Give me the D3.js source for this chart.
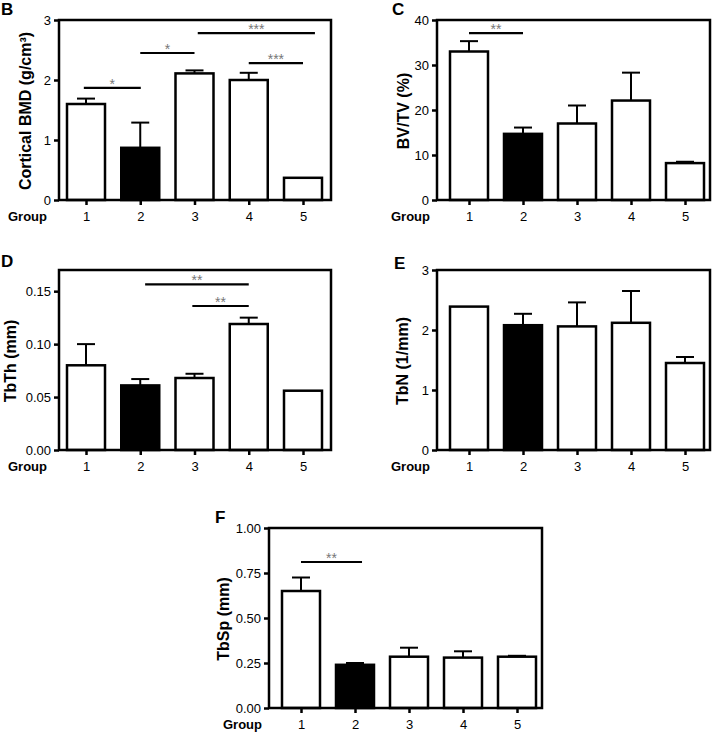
<!DOCTYPE html>
<html><head><meta charset="utf-8">
<script src="https://cdn.jsdelivr.net/npm/d3@7"></script>
<style>
body{margin:0;background:#fff}
svg{display:block}
text{font-family:Arial,"Liberation Sans",Helvetica,sans-serif}
</style>
</head><body>
<svg id="chart" width="714" height="732"></svg>
<script>
// ---------- data ----------
const groups = ["1", "2", "3", "4", "5"];

const bmdMean  = [1.60, 0.87, 2.11, 2.00, 0.37];
const bmdSem   = [0.09, 0.42, 0.05, 0.12, 0.00];
const bmdTicks = [0, 1, 2, 3];
const bmdSig   = [
  { from: 0.96, to: 2.01, y: 1.87, label: "*" },
  { from: 2.0,  to: 3.0,  y: 2.45, label: "*" },
  { from: 3.06, to: 5.22, y: 2.78, label: "***" },
  { from: 4.0,  to: 5.0,  y: 2.28, label: "***" }
];

const bvtvMean  = [33.0, 14.7, 17.0, 22.1, 8.2];
const bvtvSem   = [2.3, 1.4, 4.0, 6.2, 0.3];
const bvtvTicks = [0, 10, 20, 30, 40];
const bvtvSig   = [{ from: 1.0, to: 2.0, y: 37.1, label: "**" }];

const tbthMean  = [0.080, 0.061, 0.068, 0.119, 0.056];
const tbthSem   = [0.020, 0.006, 0.004, 0.006, 0.000];
const tbthTicks = [0, 0.05, 0.10, 0.15];
const tbthSig   = [
  { from: 2.09, to: 4.0, y: 0.1565, label: "**" },
  { from: 2.96, to: 4.0, y: 0.136,  label: "**" }
];

const tbnMean  = [2.39, 2.08, 2.06, 2.12, 1.45];
const tbnSem   = [0.00, 0.19, 0.40, 0.53, 0.10];
const tbnTicks = [0, 1, 2, 3];
const tbnSig   = [];

const tbspMean  = [0.65, 0.24, 0.285, 0.28, 0.285];
const tbspSem   = [0.075, 0.010, 0.050, 0.035, 0.005];
const tbspTicks = [0, 0.25, 0.50, 0.75, 1.00];
const tbspSig   = [{ from: 1.0, to: 2.13, y: 0.811, label: "**" }];

// ---------- layout ----------
const panels = [
  { letter: "B", lx: 1, ly: 15, left: 59, right: 331, top: 20, bottom: 200, x1: 86, x5: 303, max: 3,
    mean: bmdMean, sem: bmdSem, ticks: bmdTicks, fmt: d3.format("d"), sig: bmdSig,
    title: "Cortical BMD (g/cm\u00B3)", tx: 31, groupX: 47 },
  { letter: "C", lx: 392, ly: 15, left: 437, right: 710, top: 20, bottom: 200, x1: 469, x5: 685, max: 40,
    mean: bvtvMean, sem: bvtvSem, ticks: bvtvTicks, fmt: d3.format("d"), sig: bvtvSig,
    title: "BV/TV (%)", tx: 409, groupX: 430 },
  { letter: "D", lx: 1, ly: 267, left: 59, right: 331, top: 270, bottom: 450, x1: 86, x5: 303, max: 0.17,
    mean: tbthMean, sem: tbthSem, ticks: tbthTicks, fmt: d3.format(".2f"), sig: tbthSig,
    title: "TbTh (mm)", tx: 16, groupX: 47 },
  { letter: "E", lx: 394, ly: 269, left: 437, right: 710, top: 270, bottom: 450, x1: 469, x5: 685, max: 3,
    mean: tbnMean, sem: tbnSem, ticks: tbnTicks, fmt: d3.format("d"), sig: tbnSig,
    title: "TbN (1/mm)", tx: 408, groupX: 430 },
  { letter: "F", lx: 215, ly: 523, left: 269, right: 542, top: 528, bottom: 708, x1: 301, x5: 517, max: 1,
    mean: tbspMean, sem: tbspSem, ticks: tbspTicks, fmt: d3.format(".2f"), sig: tbspSig,
    title: "TbSp (mm)", tx: 229, groupX: 262 }
];

const svg = d3.select("#chart");
const barW = 38;
const capW = 18;
const lw = 2.5;
const fontStack = "Arial, 'Liberation Sans', sans-serif";

panels.forEach(p => {
  const g = svg.append("g");
  const x = d3.scalePoint().domain(groups).range([p.x1, p.x5]);
  const xf = d3.scaleLinear().domain([1, 5]).range([x("1"), x("5")]);
  const y = d3.scaleLinear().domain([0, p.max]).range([p.bottom, p.top]);

  const rows = groups.map((k, i) => ({ k, i, m: p.mean[i], e: p.sem[i] }));

  // error bars (upper only)
  rows.filter(d => d.e > 0).forEach(d => {
    g.append("line").attr("x1", x(d.k)).attr("x2", x(d.k))
      .attr("y1", y(d.m)).attr("y2", y(d.m + d.e))
      .attr("stroke", "#000").attr("stroke-width", 2);
    g.append("line").attr("x1", x(d.k) - capW / 2).attr("x2", x(d.k) + capW / 2)
      .attr("y1", y(d.m + d.e)).attr("y2", y(d.m + d.e))
      .attr("stroke", "#000").attr("stroke-width", 2);
  });

  // bars
  g.selectAll("rect.bar").data(rows).join("rect")
    .attr("class", "bar")
    .attr("x", d => x(d.k) - barW / 2)
    .attr("width", barW)
    .attr("y", d => y(d.m))
    .attr("height", d => y(0) - y(d.m))
    .attr("fill", d => d.i === 1 ? "#000" : "#fff")
    .attr("stroke", "#000")
    .attr("stroke-width", lw);

  // frame
  g.append("rect")
    .attr("x", p.left).attr("y", p.top)
    .attr("width", p.right - p.left).attr("height", p.bottom - p.top)
    .attr("fill", "none").attr("stroke", "#000").attr("stroke-width", lw);

  // y axis
  const ya = g.append("g").attr("transform", `translate(${p.left},0)`)
    .call(d3.axisLeft(y).tickValues(p.ticks).tickFormat(p.fmt).tickSize(5).tickPadding(3));
  ya.select(".domain").remove();
  ya.selectAll(".tick line").attr("stroke-width", lw);
  ya.selectAll(".tick text").attr("font-size", 13).attr("fill", "#000")
    .style("font-family", fontStack);

  // x axis
  const xa = g.append("g").attr("transform", `translate(0,${p.bottom})`)
    .call(d3.axisBottom(x).tickSize(5).tickPadding(7));
  xa.select(".domain").remove();
  xa.selectAll(".tick line").attr("stroke-width", lw);
  xa.selectAll(".tick text").attr("font-size", 13).attr("fill", "#000")
    .style("font-family", fontStack);

  // "Group" label
  g.append("text").attr("x", p.groupX).attr("y", p.bottom + 21)
    .attr("text-anchor", "end").attr("font-size", 13).attr("font-weight", "bold")
    .text("Group");

  // y title
  g.append("text")
    .attr("transform", `translate(${p.tx},${(p.top + p.bottom) / 2 + 1}) rotate(-90)`)
    .attr("text-anchor", "middle").attr("font-size", 16).attr("font-weight", "bold")
    .text(p.title);

  // panel letter
  g.append("text").attr("x", p.lx).attr("y", p.ly)
    .attr("font-size", 17).attr("font-weight", "bold").text(p.letter);

  // significance lines
  p.sig.forEach(s => {
    g.append("line").attr("x1", xf(s.from)).attr("x2", xf(s.to))
      .attr("y1", y(s.y)).attr("y2", y(s.y))
      .attr("stroke", "#000").attr("stroke-width", 2.2);
    g.append("text").attr("x", (xf(s.from) + xf(s.to)) / 2).attr("y", y(s.y) + 1)
      .attr("text-anchor", "middle").attr("font-size", 14).attr("fill", "#777")
      .text(s.label);
  });
});
</script>
</body></html>
